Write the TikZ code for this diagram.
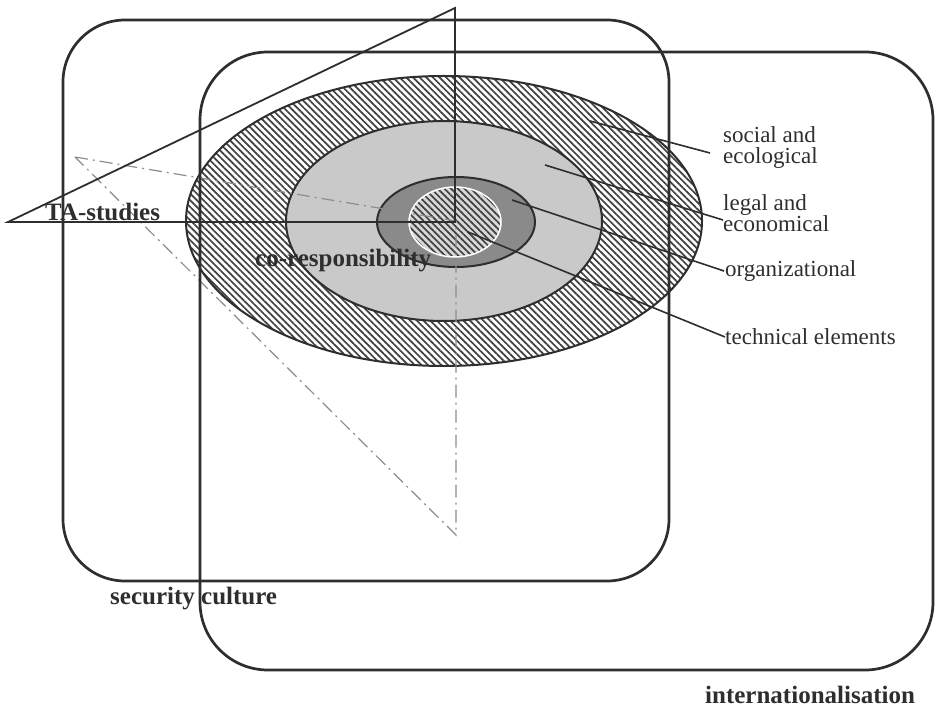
\documentclass[tikz,border=0pt]{standalone}
\usepackage{fontspec}
\setmainfont{Liberation Serif}
\usetikzlibrary{patterns.meta}
\definecolor{ink}{HTML}{2E2E2E}
\definecolor{hatch}{HTML}{404040}
\definecolor{lightfill}{HTML}{C9C9C9}
\definecolor{darkfill}{HTML}{8A8A8A}
\definecolor{innerfill}{HTML}{D8D8D8}
\definecolor{dashgray}{HTML}{8C8C8C}
\begin{document}
\begin{tikzpicture}[x=1pt,y=-1pt,
  frame/.style={draw=ink,line width=2.7pt},
  hatched/.style={pattern={Lines[angle=-45,distance=4.7pt,line width=1.7pt]},pattern color=hatch},
  ring/.style={draw=ink,line width=2pt},
  tri/.style={draw=ink,line width=1.8pt},
  dashdot/.style={draw=dashgray,line width=1.2pt,dash pattern=on 13pt off 5pt on 2pt off 5pt},
  leader/.style={draw=ink,line width=1.6pt},
  lab/.style={font=\fontsize{23}{21}\selectfont,text=ink,inner sep=0pt,anchor=base west,align=left},
  blab/.style={font=\fontsize{25}{27}\selectfont\bfseries,text=ink,inner sep=0pt,anchor=base west}]
\useasboundingbox (0,0) rectangle (936,708);

% concentric ellipses
\fill[white] (444,221) ellipse [x radius=258pt, y radius=145pt];
\path[hatched] (444,221) ellipse [x radius=258pt, y radius=145pt];
\draw[ring] (444,221) ellipse [x radius=258pt, y radius=145pt];
\draw[ring,fill=lightfill] (444,221) ellipse [x radius=158pt, y radius=100pt];
\draw[ring,fill=darkfill] (456,222) ellipse [x radius=79pt, y radius=45pt];
\fill[innerfill] (455,222) ellipse [x radius=46pt, y radius=35pt];
\path[hatched] (455,222) ellipse [x radius=46pt, y radius=35pt];
\draw[white,line width=1.5pt] (455,222) ellipse [x radius=46pt, y radius=35pt];

% dash-dot triangle
\coordinate (dA) at (75,157);
\coordinate (dC) at (456,221);
\coordinate (dB) at (456,535);
\draw[dashdot] (dA) -- (dC) -- (dB) -- cycle;

% frames
\draw[frame,rounded corners=62pt] (63,20) rectangle (669,581);
\draw[frame,rounded corners=68pt] (200,52) rectangle (933,670);

% TA-studies triangle
\coordinate (tTop) at (455,8);
\coordinate (tLeft) at (8,222);
\coordinate (tCorner) at (455,222);
\draw[tri] (tTop) -- (tLeft) -- (tCorner) -- cycle;

% labels
\node[lab] (soc) at (723,164) {social and\\ecological};
\node[lab] (leg) at (723,232) {legal and\\economical};
\node[lab] (org) at (725,277) {organizational};
\node[lab] (tec) at (725,344) {technical elements};

% leader lines
\coordinate (sS) at (590,121);
\coordinate (sE) at (710,153);
\coordinate (lS) at (545,165);
\coordinate (lE) at (723,220);
\coordinate (oS) at (512,200);
\coordinate (oE) at (724,271);
\coordinate (tS) at (468,232);
\coordinate (tE) at (725,337);
\draw[leader] (sS) -- (sE);
\draw[leader] (lS) -- (lE);
\draw[leader] (oS) -- (oE);
\draw[leader] (tS) -- (tE);

% bold labels
\node[blab] (ta) at (45,221) {TA-studies};
\node[blab] (cor) at (255,267) {co-responsibility};
\node[blab] (sec) at (110,604) {security culture};
\node[blab] (int) at (705,703) {internationalisation};
\end{tikzpicture}
\end{document}
